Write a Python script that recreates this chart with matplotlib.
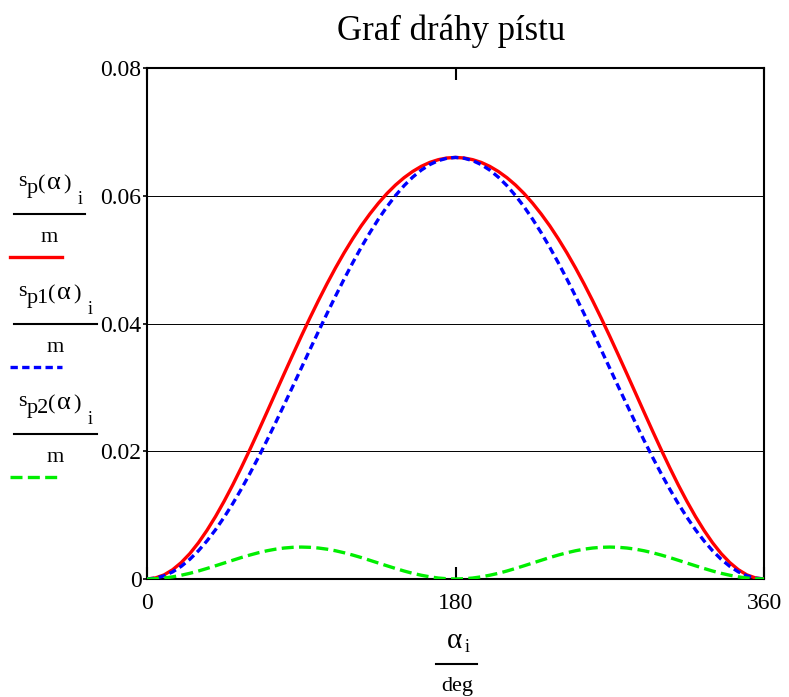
import matplotlib
matplotlib.use('Agg')
import matplotlib.pyplot as plt
from matplotlib.lines import Line2D

plt.rcParams['font.family'] = ['Liberation Serif', 'DejaVu Serif']

# piston path, every 5 degrees from 0 to 180 (mirror image after 180)
alpha_deg = list(range(0, 361, 5))
s_p_half  = [0, 0.00017, 0.00065, 0.00146, 0.00258, 0.00398, 0.00567, 0.00762, 0.00979,
             0.01217, 0.01472, 0.01743, 0.02025, 0.02316, 0.02613, 0.02913, 0.03212,
             0.03508, 0.0380, 0.04084, 0.04358, 0.04621, 0.04871, 0.05106, 0.05325,
             0.05529, 0.05714, 0.05883, 0.06035, 0.06168, 0.06283, 0.06380, 0.0646,
             0.06522, 0.06565, 0.06591, 0.0660]
s_p1_half = [0, 0.00013, 0.0005, 0.00112, 0.00199, 0.00309, 0.00442, 0.00597, 0.00772,
             0.00967, 0.01179, 0.01407, 0.0165, 0.01905, 0.02171, 0.02446, 0.02727,
             0.03012, 0.0330, 0.03588, 0.03873, 0.04154, 0.04429, 0.04695, 0.0495,
             0.05193, 0.05421, 0.05633, 0.05828, 0.06003, 0.06158, 0.06291, 0.06401,
             0.06488, 0.0655, 0.06587, 0.0660]
s_p2_half = [0, 0.00004, 0.00015, 0.00034, 0.00059, 0.00089, 0.00125, 0.00165, 0.00207,
             0.0025, 0.00293, 0.00336, 0.00375, 0.00411, 0.00442, 0.00467, 0.00485,
             0.00496, 0.0050, 0.00496, 0.00485, 0.00467, 0.00442, 0.00411, 0.00375,
             0.00336, 0.00293, 0.0025, 0.00207, 0.00165, 0.00125, 0.00089, 0.00059,
             0.00034, 0.00015, 0.00004, 0]
s_p  = s_p_half + s_p_half[-2::-1]
s_p1 = s_p1_half + s_p1_half[-2::-1]
s_p2 = s_p2_half + s_p2_half[-2::-1]

x_ticks = [0, 180, 360]
y_ticks = [0, 0.02, 0.04, 0.06, 0.08]
y_tick_labels = ['0', '0.02', '0.04', '0.06', '0.08']

RED, BLUE, GREEN = '#ff0000', '#0000ff', '#00ee00'
BLUE_LS = (0, (2.2, 1.3))
GREEN_LS = (0, (3.6, 1.6))
LW = 2.4

W, H = 789, 697
fig = plt.figure(figsize=(W / 100, H / 100), dpi=100)
ax = fig.add_axes([147 / W, 1 - 579 / H, (764 - 147) / W, (579 - 68) / H])


def px(x, y):
    return x / W, 1 - y / H


ax.plot(alpha_deg, s_p, color=RED, lw=LW, zorder=3)
ax.plot(alpha_deg, s_p1, color=BLUE, lw=LW, ls=BLUE_LS, zorder=4)
ax.plot(alpha_deg, s_p2, color=GREEN, lw=LW, ls=GREEN_LS, zorder=4)

ax.set_xlim(0, 360)
ax.set_ylim(0, 0.08)
ax.set_xticks(x_ticks)
ax.set_xticklabels([str(v) for v in x_ticks], fontsize=17)
ax.set_yticks(y_ticks)
ax.set_yticklabels(y_tick_labels, fontsize=17)
ax.tick_params(axis='x', direction='in', length=8.5, width=1.5, top=True, pad=10)
ax.tick_params(axis='y', direction='out', length=3, width=1.2, pad=1)
ax.grid(axis='y', color='black', lw=0.7)
for side in ax.spines.values():
    side.set_linewidth(1.5)

fig.text(*px(451, 40), 'Graf dráhy pístu', fontsize=25, ha='center', va='baseline')

# x label as a fraction: alpha_i / deg
fig.text(*px(455, 648), 'α', fontsize=21, ha='center', va='baseline')
fig.text(*px(465, 652), 'i', fontsize=13, ha='left', va='baseline')
fig.add_artist(Line2D([436 / W, 477 / W], [1 - 664 / H] * 2, color='black', lw=1.5,
                      transform=fig.transFigure))
fig.text(*px(457, 691), 'deg', fontsize=16, ha='center', va='baseline')

# y labels as stacked fractions with line samples
entries = [
    ('p', 214, 85, 37, dict(color=RED, ls='-')),
    ('p1', 324, 97, 47, dict(color=BLUE, ls=BLUE_LS)),
    ('p2', 434, 97, 47, dict(color=GREEN, ls=GREEN_LS)),
]
for sub, y_bar, x_end, x_par, style in entries:
    fig.text(*px(18, y_bar - 28), 's', fontsize=16, ha='left', va='baseline')
    fig.text(*px(27, y_bar - 21), sub, fontsize=16, ha='left', va='baseline')
    fig.text(*px(x_par + 1, y_bar - 25), '(', fontsize=16, ha='left', va='baseline')
    fig.text(*px(x_par + 17, y_bar - 25), 'α', fontsize=19, ha='center', va='baseline')
    fig.text(*px(x_par + 26, y_bar - 25), ')', fontsize=16, ha='left', va='baseline')
    fig.text(*px(x_par + 41, y_bar - 10), 'i', fontsize=13, ha='left', va='baseline')
    fig.add_artist(Line2D([14 / W, x_end / W], [1 - y_bar / H] * 2, color='black', lw=1.5,
                          transform=fig.transFigure))
    fig.text(*px((14 + x_end) / 2, y_bar + 28), 'm', fontsize=16, ha='center', va='baseline')
    fig.add_artist(Line2D([10 / W, 62 / W], [1 - (y_bar + 43) / H] * 2, lw=LW,
                          transform=fig.transFigure, **style))

fig.savefig('out.png', dpi=100)
